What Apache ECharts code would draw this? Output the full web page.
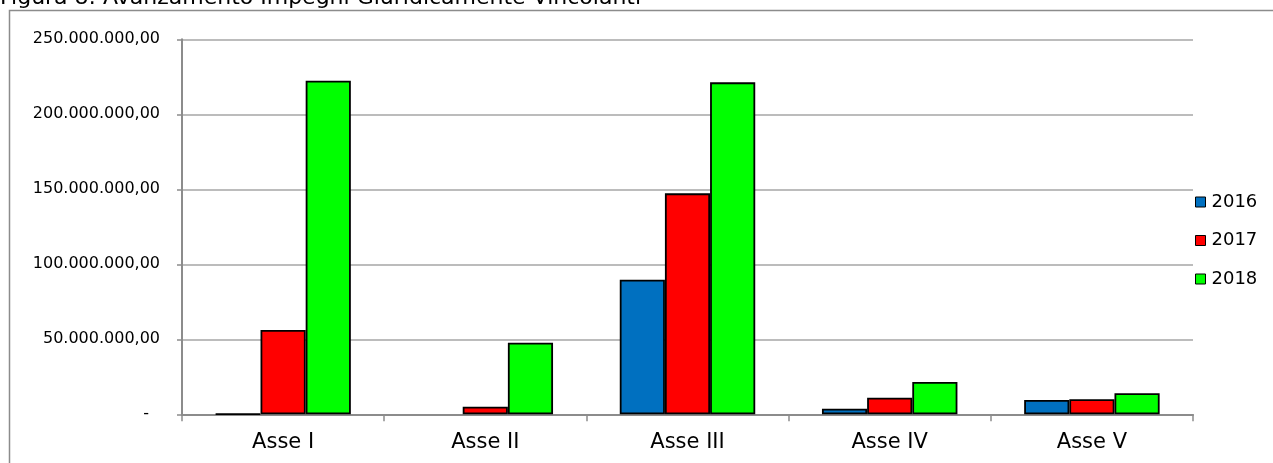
<!DOCTYPE html>
<html>
<head>
<meta charset="utf-8">
<script src="https://cdn.jsdelivr.net/npm/echarts@6/dist/echarts.min.js"></script>
<style>
html,body{margin:0;padding:0;background:#fff;}
#chart{width:1273px;height:463px;}
</style>
</head>
<body>
<div id="chart"></div>
<script>
const titleText = 'Figura 8: Avanzamento Impegni Giuridicamente Vincolanti';
const categories = ['Asse I', 'Asse II', 'Asse III', 'Asse IV', 'Asse V'];
const seriesNames = ['2016', '2017', '2018'];
const values2016 = [300000, 0, 89700000, 3700000, 9500000];
const values2017 = [56200000, 5100000, 147300000, 11100000, 10000000];
const values2018 = [222400000, 47700000, 221300000, 21500000, 14000000];
const colors = ['#0070C0', '#FF0000', '#00FF00'];
const yMin = 0, yMax = 250000000, yStep = 50000000;

function fmt(v) {
  if (v === 0) return '{z|-}';
  const s = Math.round(v).toString().replace(/\B(?=(\d{3})+(?!\d))/g, '.');
  return s + ',00';
}

const font = 'DejaVu Sans, Verdana, sans-serif';
const chart = echarts.init(document.getElementById('chart'));
const allValues = [values2016, values2017, values2018];

chart.setOption({
  animation: false,
  backgroundColor: '#fff',
  title: {
    text: titleText, left: 0, top: -13, padding: 0,
    textStyle: { fontFamily: font, fontSize: 22, fontWeight: 'normal', color: '#000' }
  },
  graphic: [{
    type: 'polyline', shape: { points: [[9.5, 463], [9.5, 10.5], [1273, 10.5]] },
    style: { fill: null, stroke: '#8c8c8c', lineWidth: 1.5 }, z: -10, silent: true
  }],
  legend: {
    orient: 'vertical', left: 1195, top: 193, padding: 0,
    itemWidth: 10, itemHeight: 10, itemGap: 20.5,
    icon: 'rect',
    itemStyle: { borderColor: '#000', borderWidth: 1 },
    textStyle: { fontFamily: font, fontSize: 18, color: '#000', padding: [0, 0, 0, 1] },
    data: seriesNames
  },
  grid: { left: 182, right: 80, top: 39.3, bottom: 48.7, containLabel: false },
  xAxis: {
    type: 'category', data: categories,
    axisLine: { lineStyle: { color: '#8c8c8c', width: 2 } },
    axisTick: { show: true, length: 7, lineStyle: { color: '#8c8c8c', width: 1.5 } },
    axisLabel: { fontFamily: font, fontSize: 21, color: '#000', margin: 18 }
  },
  yAxis: {
    type: 'value', min: yMin, max: yMax, interval: yStep,
    axisLine: { show: true, lineStyle: { color: '#8c8c8c', width: 2 } },
    axisTick: { show: true, length: 5, lineStyle: { color: '#8c8c8c', width: 1.5 } },
    splitLine: { lineStyle: { color: '#a6a6a6', width: 1.5 } },
    axisLabel: {
      fontFamily: font, fontSize: 16, color: '#000', margin: 22,
      formatter: fmt,
      rich: { z: { fontFamily: font, fontSize: 16, color: '#000', padding: [0, 11, 0, 0] } }
    }
  },
  series: seriesNames.map((name, i) => ({
    name: name, type: 'bar',
    data: allValues[i].map(v => v === 0 ? '-' : v),
    barGap: '0%', barCategoryGap: '33%',
    itemStyle: { color: colors[i], borderColor: '#000', borderWidth: 1.8 }
  }))
});
</script>
</body>
</html>
